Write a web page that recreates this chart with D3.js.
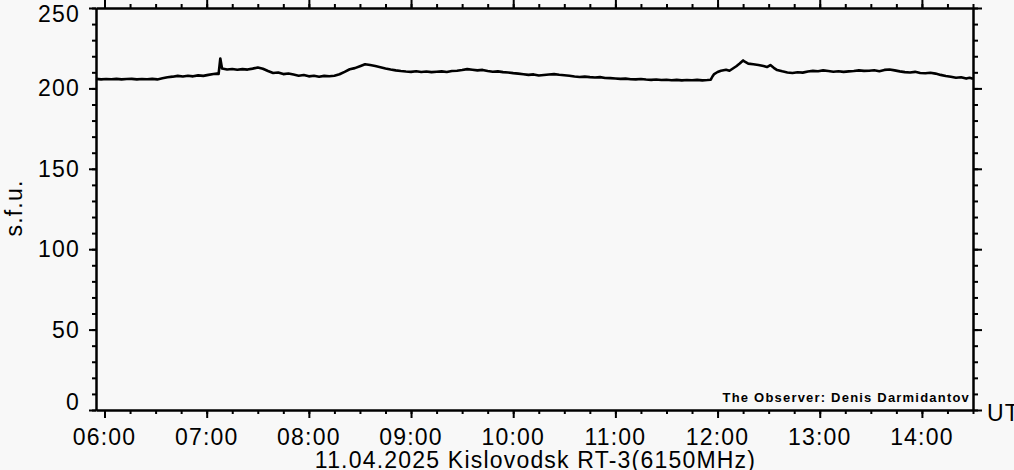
<!DOCTYPE html>
<html>
<head>
<meta charset="utf-8">
<script src="https://cdn.jsdelivr.net/npm/d3@7"></script>
<style>
  html, body { margin: 0; padding: 0; background: #f8f8f8; }
  svg { display: block; }
  text { font-family: "Liberation Sans", Arial, sans-serif; fill: #000; }
</style>
</head>
<body>
<svg id="chart" width="1014" height="470"></svg>
<script>
// ---- data ----
const chartDate = "2025-04-11";
const timeDomain = ["05:55", "14:30"];
const fluxDomain = [0, 250];
const fluxTicks = [0, 50, 100, 150, 200, 250];
const yLabel = "s.f.u.";
const xUnit = "UT";
const title = "11.04.2025 Kislovodsk RT-3(6150MHz)";
const credit = "The Observer: Denis Darmidantov";

const series = [
  ["05:55",205.9],["05:58",205.6],
  ["06:01",205.8],["06:04",205.7],["06:07",205.9],["06:10",205.6],["06:13",205.8],["06:16",205.9],["06:19",205.6],["06:22",205.8],["06:25",205.7],["06:28",205.9],["06:31",205.6],["06:34",206.3],["06:37",206.9],["06:40",207.3],["06:43",207.8],["06:46",207.4],["06:49",207.9],["06:52",207.5],["06:55",208.1],["06:58",207.8],
  ["07:01",208.4],["07:04",208.9],["07:06",209.2],["07:07",209.0],["07:08",218.6],["07:09",212.4],["07:12",211.8],["07:15",212.1],["07:18",211.6],["07:21",212.0],["07:24",211.7],["07:27",212.3],["07:30",213.0],["07:33",212.2],["07:36",210.8],["07:39",209.6],["07:42",209.9],["07:45",208.9],["07:48",209.3],["07:51",208.6],["07:54",207.9],["07:57",208.3],
  ["08:00",207.5],["08:03",207.9],["08:06",207.3],["08:09",207.8],["08:12",207.6],["08:15",207.9],["08:18",208.8],["08:21",210.3],["08:24",211.9],["08:27",212.6],["08:30",213.8],["08:33",215.0],["08:36",214.5],["08:39",213.9],["08:42",213.2],["08:45",212.4],["08:48",211.7],["08:51",211.2],["08:54",210.8],["08:57",210.5],
  ["09:00",210.3],["09:03",210.7],["09:06",210.2],["09:09",210.5],["09:12",210.1],["09:15",210.4],["09:18",210.6],["09:21",210.2],["09:24",210.8],["09:27",211.0],["09:30",211.4],["09:33",212.0],["09:36",211.6],["09:39",211.2],["09:42",211.5],["09:45",210.8],["09:48",210.4],["09:51",210.6],["09:54",210.1],["09:57",209.9],
  ["10:00",209.5],["10:03",209.2],["10:06",208.8],["10:09",208.4],["10:12",208.7],["10:15",208.0],["10:18",208.3],["10:21",208.6],["10:24",208.9],["10:27",208.5],["10:30",208.2],["10:33",207.9],["10:36",207.4],["10:39",207.1],["10:42",207.3],["10:45",207.0],["10:48",206.8],["10:51",207.0],["10:54",206.5],["10:57",206.4],
  ["11:00",206.2],["11:03",205.9],["11:06",206.1],["11:09",205.7],["11:12",205.6],["11:15",205.8],["11:18",205.5],["11:21",205.3],["11:24",205.5],["11:27",205.2],["11:30",205.4],["11:33",205.1],["11:36",205.3],["11:39",205.0],["11:42",205.2],["11:45",205.1],["11:48",205.3],["11:51",205.0],["11:54",205.2],["11:56",205.4],["11:57",207.4],["11:58",208.9],
  ["12:00",210.2],["12:02",211.0],["12:05",211.6],["12:07",211.0],["12:09",212.4],["12:11",213.8],["12:13",215.5],["12:15",217.4],["12:16",216.6],["12:18",215.4],["12:21",215.0],["12:24",214.6],["12:27",213.9],["12:29",213.3],["12:31",214.5],["12:33",212.8],["12:35",211.4],["12:38",210.6],["12:41",209.9],["12:44",209.6],["12:47",210.0],["12:50",209.8],["12:53",210.5],["12:56",210.9],["12:59",210.7],
  ["13:02",211.2],["13:05",210.8],["13:08",210.4],["13:11",210.7],["13:14",210.3],["13:17",210.6],["13:20",210.8],["13:23",211.2],["13:26",210.9],["13:29",211.0],["13:32",211.3],["13:35",210.7],["13:38",211.5],["13:41",211.8],["13:44",211.2],["13:47",210.6],["13:50",210.1],["13:53",209.9],["13:56",210.3],["13:59",209.6],
  ["14:02",209.4],["14:05",209.7],["14:08",209.2],["14:11",208.4],["14:14",207.7],["14:17",207.2],["14:20",206.6],["14:23",206.9],["14:26",206.1],["14:28",206.6],["14:30",206.0]
];

// ---- layout ----
const W = 1014, H = 470;
const plot = { left: 96, right: 973, top: 8, bottom: 410 };
const FONT = 23, LS = 1.2;

const parse = d3.utcParse("%Y-%m-%d %H:%M");
const toDate = s => parse(chartDate + " " + s);

const x = d3.scaleUtc().domain(timeDomain.map(toDate)).range([plot.left, plot.right]);
const y = d3.scaleLinear().domain(fluxDomain).range([plot.bottom, plot.top]);

const svg = d3.select("#chart");
svg.append("rect").attr("width", W).attr("height", H).attr("fill", "#f8f8f8");

const hourTicks = x.ticks(d3.utcHour.every(1));
const quarterTicks = x.ticks(d3.utcMinute.every(15));
const minorY = d3.range(fluxDomain[0], fluxDomain[1] + 1, 10);

function styleAxis(g) {
  g.selectAll("path.domain").attr("stroke", "#000").attr("stroke-width", 2);
  g.selectAll(".tick line").attr("stroke", "#000").attr("stroke-width", 2);
  g.selectAll("text").remove();
}

// minor ticks (draw first)
svg.append("g").attr("transform", `translate(0,${plot.bottom})`)
  .call(d3.axisBottom(x).tickValues(quarterTicks).tickSize(4).tickSizeOuter(0)).call(styleAxis);
svg.append("g").attr("transform", `translate(0,${plot.top})`)
  .call(d3.axisTop(x).tickValues(quarterTicks).tickSize(4).tickSizeOuter(0)).call(styleAxis);
svg.append("g").attr("transform", `translate(${plot.left},0)`)
  .call(d3.axisLeft(y).tickValues(minorY).tickSize(4).tickSizeOuter(0)).call(styleAxis);
svg.append("g").attr("transform", `translate(${plot.right},0)`)
  .call(d3.axisRight(y).tickValues(minorY).tickSize(5).tickSizeOuter(0)).call(styleAxis);

// major ticks
svg.append("g").attr("transform", `translate(0,${plot.bottom})`)
  .call(d3.axisBottom(x).tickValues(hourTicks).tickSize(8).tickSizeOuter(0)).call(styleAxis);
svg.append("g").attr("transform", `translate(0,${plot.top})`)
  .call(d3.axisTop(x).tickValues(hourTicks).tickSize(8).tickSizeOuter(0)).call(styleAxis);
svg.append("g").attr("transform", `translate(${plot.left},0)`)
  .call(d3.axisLeft(y).tickValues(fluxTicks).tickSize(7).tickSizeOuter(0)).call(styleAxis);
svg.append("g").attr("transform", `translate(${plot.right},0)`)
  .call(d3.axisRight(y).tickValues(fluxTicks).tickSize(9).tickSizeOuter(0)).call(styleAxis);

// x tick labels
const fmt = d3.utcFormat("%H:%M");
svg.append("g").selectAll("text").data(hourTicks).join("text")
  .attr("x", d => x(d)).attr("y", 445)
  .attr("text-anchor", "middle")
  .style("font-size", FONT + "px").style("letter-spacing", LS + "px")
  .text(d => fmt(d));

// y tick labels (clamped inside the plot height)
svg.append("g").selectAll("text").data(fluxTicks).join("text")
  .attr("x", 80).attr("y", d => Math.min(plot.bottom, Math.max(22, y(d) + 8)))
  .attr("text-anchor", "end")
  .style("font-size", FONT + "px").style("letter-spacing", LS + "px")
  .text(d => d);

// y label
svg.append("text")
  .attr("transform", `translate(22,208) rotate(-90)`)
  .attr("text-anchor", "middle")
  .style("font-size", FONT + "px").style("letter-spacing", LS + "px")
  .text(yLabel);

// UT
svg.append("text").attr("x", 987).attr("y", 421)
  .style("font-size", FONT + "px").style("letter-spacing", LS + "px")
  .text(xUnit);

// title
svg.append("text").attr("x", (plot.left + plot.right) / 2 + 1).attr("y", 468)
  .attr("text-anchor", "middle")
  .style("font-size", FONT + "px").style("letter-spacing", LS + "px")
  .text(title);

// credit
svg.append("text").attr("x", 970).attr("y", 402)
  .attr("text-anchor", "end")
  .style("font-size", "13px").style("font-weight", "bold").style("letter-spacing", "1.2px")
  .text(credit);

// line
const line = d3.line().x(d => x(toDate(d[0]))).y(d => y(d[1]));
svg.append("path").datum(series)
  .attr("fill", "none").attr("stroke", "#000").attr("stroke-width", 2.6)
  .attr("stroke-linejoin", "round")
  .attr("d", line);
</script>
</body>
</html>
